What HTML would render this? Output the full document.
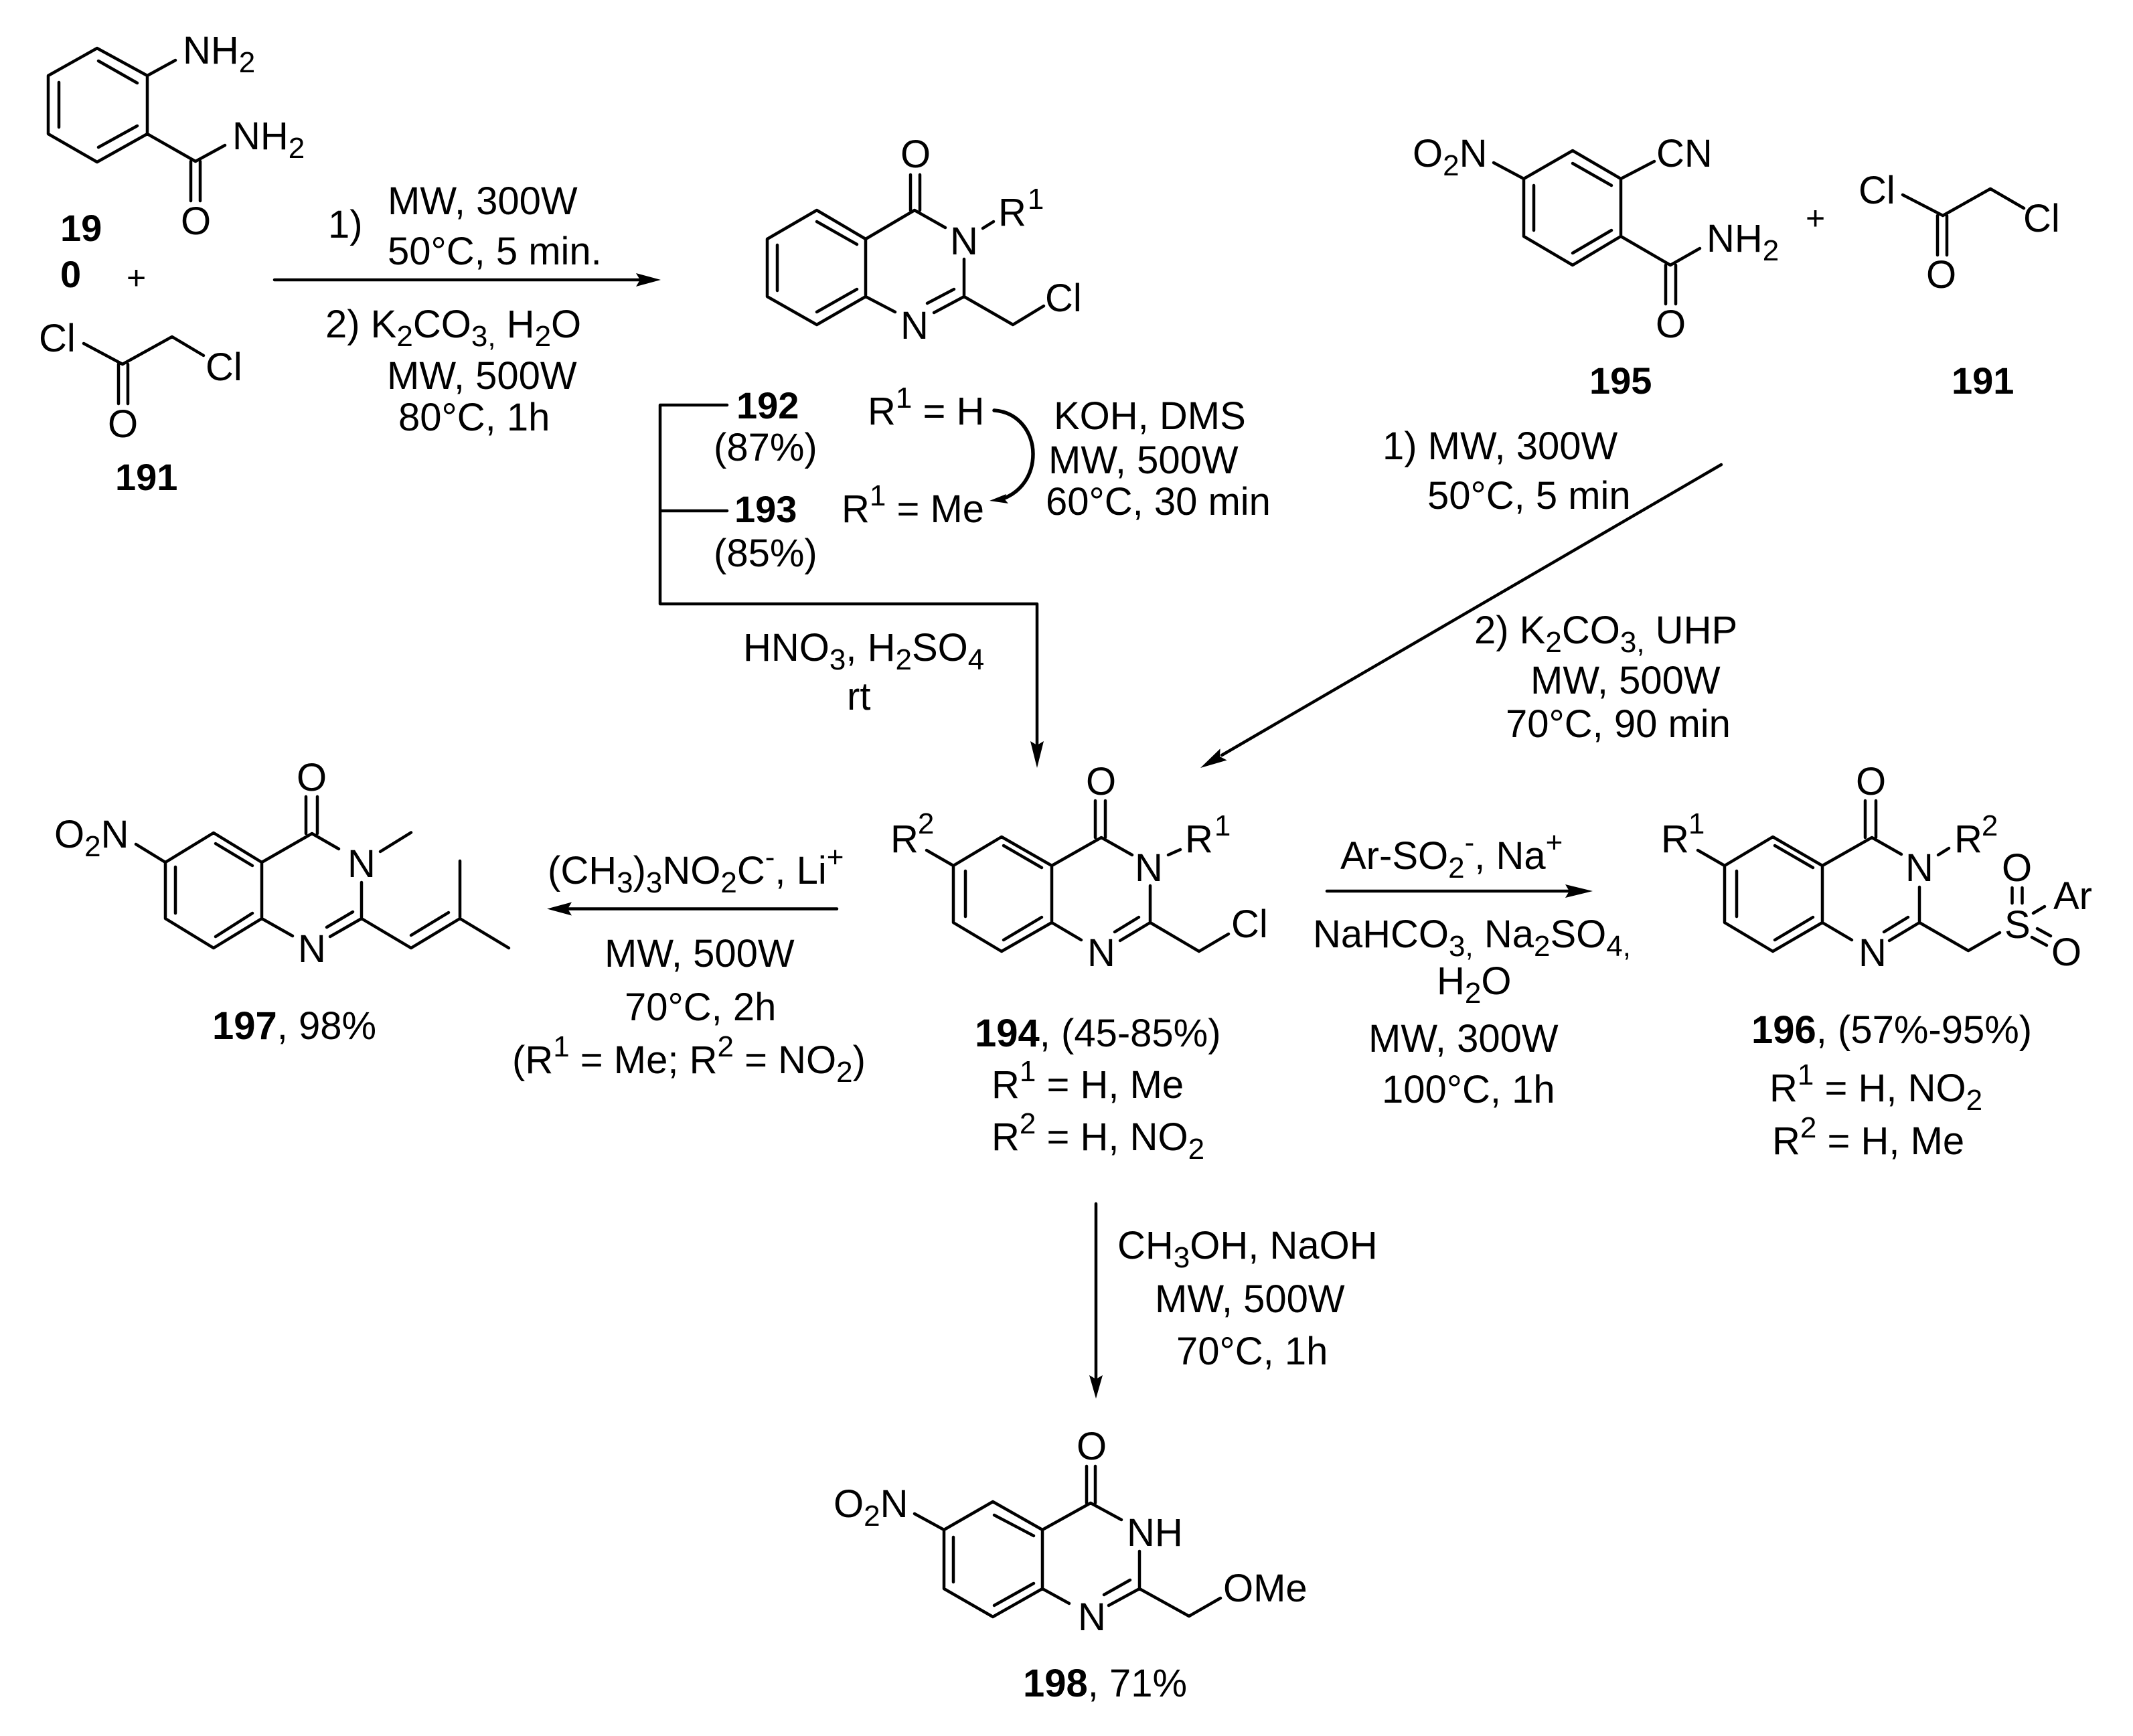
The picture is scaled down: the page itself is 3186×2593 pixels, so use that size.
<!DOCTYPE html>
<html><head><meta charset="utf-8"><style>
html,body{margin:0;padding:0;background:#fff}
svg{display:block}
text{font-family:"Liberation Sans",Arial,sans-serif;font-size:58px;fill:#000}
.a{font-size:58px}
.b{font-weight:bold;font-size:56px}
.s{font-size:44px}
path.l{fill:none;stroke:#000;stroke-width:4.5;stroke-linecap:round;stroke-linejoin:round}
path.h{fill:#000;stroke:none}
</style></head><body>
<svg width="3186" height="2593" viewBox="0 0 3186 2593" xmlns="http://www.w3.org/2000/svg">
<rect width="3186" height="2593" fill="#fff"/>
<path class="l" d="
M145 72L220 113L220 200L145 242L72 200L72 113Z
M147 91L205 124M88 123L88 190M147 220L205 188
M220 113L262 90M220 200L292 241L336 217M285 241L285 300M299 241L299 300
M125 513L183 544L257 503L304 531M177 544L177 603M191 544L191 603
M1220 314L1293 357L1293 443L1220 485L1146 443L1146 357Z
M1220 331L1280 365M1161 366L1161 434M1220 466L1280 432
M1293 357L1366 314L1412 340M1360 314L1360 261M1374 314L1374 261
M1468 341L1484 331M1440 387L1440 443L1395 467M1385 453L1425 432M1293 443L1337 466M1440 443L1513 485L1559 457
M986 605L1086 605M986 605L986 902L1549 902L1549 1115M986 763L1086 763
M2349 225L2421 267L2421 353L2349 396L2276 353L2276 267Z
M2349 244L2407 277M2291 277L2291 344M2349 378L2407 344
M2231 243L2276 267M2421 267L2471 241M2421 353L2495 396L2539 371M2488 396L2488 454M2503 396L2503 454
M2842 291L2902 322L2973 282L3023 311M2894 322L2894 381M2908 322L2908 381
M2571 694L1825 1128
M410 418L955 418
M1250 1357.5L845 1357.5M1982 1331L2345 1331M1637 1798L1637 2060
M319 1244L391 1288L391 1372L319 1416L247 1372L247 1288Z
M322 1260L377 1293M262 1295L262 1364M322 1399L377 1364
M203 1261L247 1288M391 1288L466 1245L506 1268M457 1245L457 1190M474 1245L474 1190
M568 1272L614 1243.5M540 1318L540 1372L493 1399M488 1385L527 1362M391 1372L437 1398
M540 1372L614 1416L687 1372L760 1416M614 1397L670 1363M687 1372L687 1286
M1496 1250L1571 1293L1571 1378L1496 1421L1424 1378L1424 1293Z
M1499 1263L1556 1296M1442 1301L1442 1369M1499 1404L1556 1370
M1384 1270L1424 1293M1571 1293L1645 1251L1691 1277M1636 1251L1636 1196M1651 1251L1651 1196
M1745 1277L1763 1269M1718 1323L1718 1378L1673 1405M1665 1392L1701 1370M1571 1378L1615 1404M1718 1378L1791 1421L1835 1395
M2648 1250L2722 1293L2722 1378L2648 1421L2576 1378L2576 1293Z
M2651 1263L2708 1296M2594 1301L2594 1369M2651 1404L2708 1370
M2536 1270L2576 1293M2722 1293L2796 1251L2840 1276M2786 1251L2786 1196M2802 1251L2802 1196
M2895 1277L2911 1267M2867 1325L2867 1378L2822 1405M2814 1392L2850 1370M2722 1378L2766 1404M2867 1378L2940 1420L2987 1393
M3005.5 1326L3005.5 1349M3020.5 1326L3020.5 1349M3037 1364L3054 1354M3043 1387L3063 1398M3035 1400L3057 1412
M1483 2243L1557 2285L1557 2373L1483 2415L1410 2373L1410 2285Z
M1485 2263L1544 2294M1424 2296L1424 2363M1485 2398L1544 2365
M1366 2261L1410 2285M1557 2285L1629 2245L1675 2270M1623 2245L1623 2190M1636 2245L1636 2190
M1702 2317L1702 2373L1656 2398M1649 2382L1688 2360M1557 2373L1597 2395M1702 2373L1776 2414L1823 2387
"/>
<path class="l" style="stroke-width:5.5" d="M1485 613C1520 615 1543 645 1543 678C1543 710 1525 735 1498 745"/>
<path class="h" d="M987 418L950 408L956 418L950 428Z"/>
<path class="h" d="M1549 1147L1539 1107L1549 1113L1559 1107Z"/>
<path class="h" d="M1793 1147L1832.6 1135.5L1822 1130L1822.6 1118.3Z"/>
<path class="h" d="M817 1357.5L854 1347.5L848 1357.5L854 1367.5Z"/>
<path class="h" d="M2379 1331L2338 1321L2344 1331L2338 1341Z"/>
<path class="h" d="M1637 2089L1627 2054L1637 2060L1647 2054Z"/>
<path class="h" d="M1478 748L1503 738L1500 745L1506 752Z"/>

<!-- 190 / 191 -->
<text class="a" x="273" y="95">NH<tspan class="s" dy="13">2</tspan></text>
<text class="a" x="347" y="223">NH<tspan class="s" dy="13">2</tspan></text>
<text class="a" x="270" y="350">O</text>
<text class="b" x="90" y="360">19</text>
<text class="b" x="90" y="429">0</text>
<text x="189" y="432" style="font-size:50px">+</text>
<text class="a" x="58" y="525">Cl</text>
<text class="a" x="307" y="568">Cl</text>
<text class="a" x="161" y="653">O</text>
<text class="b" x="172" y="732">191</text>

<text x="490" y="355">1)</text>
<text x="579" y="320">MW, 300W</text>
<text x="579" y="395">50°C, 5 min.</text>
<text x="486" y="504">2) K<tspan class="s" dy="13">2</tspan><tspan dy="-13">CO</tspan><tspan class="s" dy="13">3,</tspan><tspan dy="-13"> H</tspan><tspan class="s" dy="13">2</tspan><tspan dy="-13">O</tspan></text>
<text x="578" y="581">MW, 500W</text>
<text x="595" y="643">80°C, 1h</text>

<!-- 192/193 -->
<text class="a" x="1345" y="250">O</text>
<text class="a" x="1419" y="380">N</text>
<text class="a" x="1491" y="337">R<tspan class="s" dy="-25" dx="2">1</tspan></text>
<text class="a" x="1345" y="506">N</text>
<text class="a" x="1561" y="465">Cl</text>
<text class="b" x="1100" y="625">192</text>
<text x="1066" y="688">(87%)</text>
<text class="b" x="1097" y="780">193</text>
<text x="1066" y="846">(85%)</text>
<text x="1296" y="634">R<tspan class="s" dy="-25">1</tspan><tspan dy="25"> = H</tspan></text>
<text x="1257" y="780">R<tspan class="s" dy="-25">1</tspan><tspan dy="25"> = Me</tspan></text>
<text x="1574" y="641">KOH, DMS</text>
<text x="1566" y="707">MW, 500W</text>
<text x="1562" y="769">60°C, 30 min</text>
<text x="1110" y="987">HNO<tspan class="s" dy="13">3</tspan><tspan dy="-13">, H</tspan><tspan class="s" dy="13">2</tspan><tspan dy="-13">SO</tspan><tspan class="s" dy="13">4</tspan></text>
<text x="1265" y="1060">rt</text>

<!-- 195 / 191 -->
<text class="a" x="2110" y="249">O<tspan class="s" dy="13">2</tspan><tspan dy="-13">N</tspan></text>
<text class="a" x="2474" y="249">CN</text>
<text class="a" x="2549" y="376">NH<tspan class="s" dy="13">2</tspan></text>
<text class="a" x="2473" y="504">O</text>
<text class="b" x="2374" y="588">195</text>
<text class="b" x="2915" y="588">191</text>
<text x="2697" y="343" style="font-size:50px">+</text>
<text class="a" x="2776" y="304">Cl</text>
<text class="a" x="3022" y="346">Cl</text>
<text class="a" x="2877" y="430">O</text>
<text x="2065" y="686">1) MW, 300W</text>
<text x="2132" y="760">50°C, 5 min</text>
<text x="2202" y="961">2) K<tspan class="s" dy="13">2</tspan><tspan dy="-13">CO</tspan><tspan class="s" dy="13">3,</tspan><tspan dy="-13"> UHP</tspan></text>
<text x="2286" y="1036">MW, 500W</text>
<text x="2249" y="1101">70°C, 90 min</text>

<!-- 197 -->
<text class="a" x="443" y="1181">O</text>
<text class="a" x="81" y="1266">O<tspan class="s" dy="13">2</tspan><tspan dy="-13">N</tspan></text>
<text class="a" x="519" y="1310">N</text>
<text class="a" x="445" y="1437">N</text>
<text x="317" y="1552"><tspan class="b" style="font-size:58px">197</tspan>, 98%</text>
<text x="818" y="1320">(CH<tspan class="s" dy="13">3</tspan><tspan dy="-13">)</tspan><tspan class="s" dy="13">3</tspan><tspan dy="-13">NO</tspan><tspan class="s" dy="13">2</tspan><tspan dy="-13">C</tspan><tspan class="s" dy="-25">-</tspan><tspan dy="25">, Li</tspan><tspan class="s" dy="-25">+</tspan></text>
<text x="903" y="1444">MW, 500W</text>
<text x="933" y="1524">70°C, 2h</text>
<text x="765" y="1603">(R<tspan class="s" dy="-25">1</tspan><tspan dy="25"> = Me; R</tspan><tspan class="s" dy="-25">2</tspan><tspan dy="25"> = NO</tspan><tspan class="s" dy="13">2</tspan><tspan dy="-13">)</tspan></text>

<!-- 194 -->
<text class="a" x="1622" y="1187">O</text>
<text class="a" x="1330" y="1273">R<tspan class="s" dy="-28" dx="-1">2</tspan></text>
<text class="a" x="1695" y="1316">N</text>
<text class="a" x="1770" y="1273">R<tspan class="s" dy="-25" dx="2">1</tspan></text>
<text class="a" x="1624" y="1443">N</text>
<text class="a" x="1839" y="1400">Cl</text>
<text x="1456" y="1563"><tspan class="b" style="font-size:58px">194</tspan>, (45-85%)</text>
<text x="1481" y="1640">R<tspan class="s" dy="-25">1</tspan><tspan dy="25"> = H, Me</tspan></text>
<text x="1481" y="1718">R<tspan class="s" dy="-25">2</tspan><tspan dy="25"> = H, NO</tspan><tspan class="s" dy="13">2</tspan></text>

<text x="2002" y="1298">Ar-SO<tspan class="s" dy="13">2</tspan><tspan class="s" dy="-38">-</tspan><tspan dy="25">, Na</tspan><tspan class="s" dy="-25">+</tspan></text>
<text x="1961" y="1415">NaHCO<tspan class="s" dy="13">3,</tspan><tspan dy="-13"> Na</tspan><tspan class="s" dy="13">2</tspan><tspan dy="-13">SO</tspan><tspan class="s" dy="13">4,</tspan></text>
<text x="2146" y="1485">H<tspan class="s" dy="13">2</tspan><tspan dy="-13">O</tspan></text>
<text x="2044" y="1571">MW, 300W</text>
<text x="2064" y="1647">100°C, 1h</text>

<!-- 196 -->
<text class="a" x="2772" y="1187">O</text>
<text class="a" x="2481" y="1273">R<tspan class="s" dy="-28" dx="-1">1</tspan></text>
<text class="a" x="2846" y="1316">N</text>
<text class="a" x="2919" y="1273">R<tspan class="s" dy="-25" dx="-1">2</tspan></text>
<text class="a" x="2776" y="1443">N</text>
<text class="a" x="2994" y="1401">S</text>
<text class="a" x="2990" y="1316">O</text>
<text class="a" x="3067" y="1358">Ar</text>
<text class="a" x="3064" y="1442">O</text>
<text x="2616" y="1558"><tspan class="b" style="font-size:58px">196</tspan>, (57%-95%)</text>
<text x="2643" y="1645">R<tspan class="s" dy="-25">1</tspan><tspan dy="25"> = H, NO</tspan><tspan class="s" dy="13">2</tspan></text>
<text x="2647" y="1724">R<tspan class="s" dy="-25">2</tspan><tspan dy="25"> = H, Me</tspan></text>

<!-- 198 -->
<text x="1669" y="1880">CH<tspan class="s" dy="13">3</tspan><tspan dy="-13">OH, NaOH</tspan></text>
<text x="1725" y="1960">MW, 500W</text>
<text x="1757" y="2038">70°C, 1h</text>
<text class="a" x="1608" y="2180">O</text>
<text class="a" x="1245" y="2266">O<tspan class="s" dy="13">2</tspan><tspan dy="-13">N</tspan></text>
<text class="a" x="1683" y="2309">NH</text>
<text class="a" x="1610" y="2435">N</text>
<text class="a" x="1827" y="2392">OMe</text>
<text x="1528" y="2534"><tspan class="b" style="font-size:58px">198</tspan>, 71%</text>
</svg>
</body></html>
